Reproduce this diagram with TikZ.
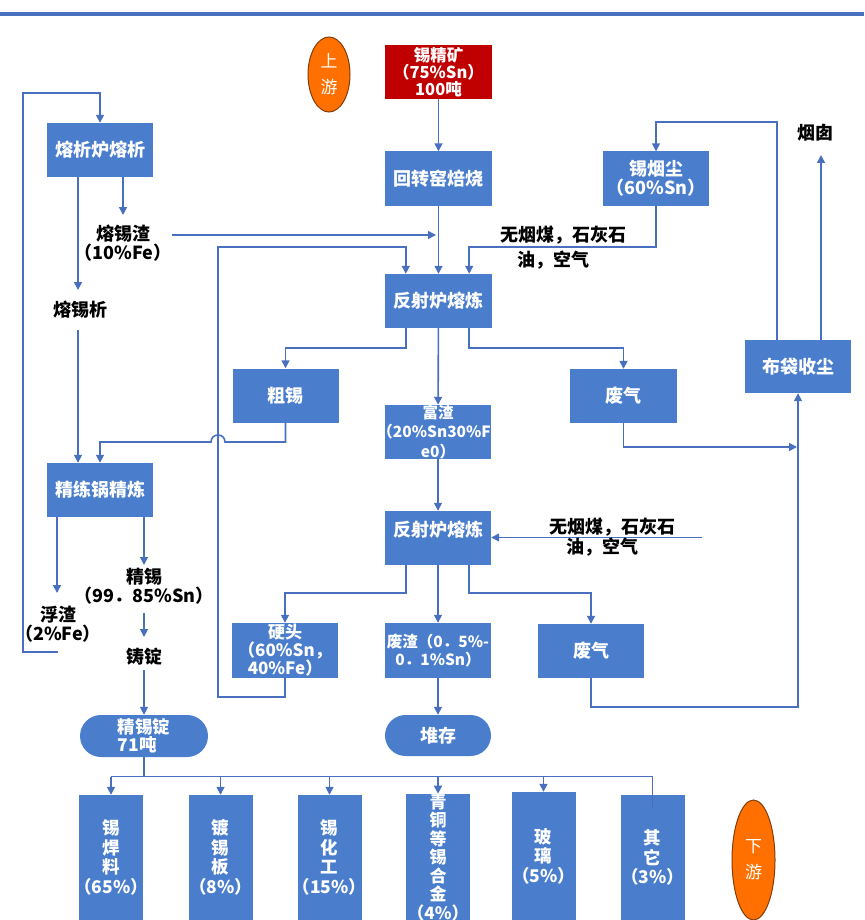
\documentclass[tikz,border=0pt]{standalone}
\usepackage{fontspec}
\newfontfamily\cjk{Noto Sans CJK SC}
\usetikzlibrary{arrows.meta,shapes.geometric}
\definecolor{boxblue}{RGB}{74,126,205}
\definecolor{lineblue}{RGB}{72,112,190}
\definecolor{orebox}{RGB}{192,0,0}
\definecolor{orangeov}{RGB}{255,112,0}
\definecolor{orangebd}{RGB}{130,60,10}
\newcommand{\zw}[1]{\makebox[0pt]{#1}}
\begin{document}
\begin{tikzpicture}[x=1pt,y=-1pt,
  pbox/.style={fill=boxblue, text=white, inner sep=0pt, align=center,
    minimum width=106pt, minimum height=54pt,
    font=\cjk\bfseries\fontsize{18}{19}\selectfont},
  vbox/.style={pbox, minimum width=64pt, minimum height=125pt,
    font=\cjk\bfseries\fontsize{17.5}{19.5}\selectfont},
  stad/.style={pbox, minimum height=42pt, rounded corners=21pt},
  lbl/.style={text=black, inner sep=0pt, align=center,
    font=\cjk\bfseries\fontsize{18}{19}\selectfont},
  oval/.style={ellipse, fill=orangeov, draw=orangebd, line width=1pt, text=white,
    inner sep=0pt, align=center, font=\cjk\fontsize{17}{26}\selectfont},
  arr/.style={draw=lineblue, line width=1.6pt, -{Triangle[length=8pt,width=8pt]}},
  ln/.style={draw=lineblue, line width=1.6pt},
]
\useasboundingbox (0,0) rectangle (864,920);
\draw[draw=lineblue, line width=3.5pt] (0,14) -- (864,14);

% ---- nodes ----
\node[oval, minimum width=42pt, minimum height=75pt] (up) at (329,74.5) {上\\游};
\node[pbox, fill=orebox, minimum width=107pt, font=\cjk\bfseries\fontsize{16.5}{17}\selectfont] (ore) at (438.5,72) {锡精矿\\（75\%Sn）\\100吨};
\node[pbox, minimum width=107pt] (rk) at (438.5,178.5) {回转窑焙烧};
\node[pbox] (dust) at (656,178.5) {锡烟尘\\（60\%Sn）};
\node[pbox, minimum width=107pt] (fs1) at (438.5,301) {反射炉熔炼};
\node[pbox, minimum height=53pt] (bag) at (798,366.5) {布袋收尘};
\node[pbox] (cs) at (285.5,395.5) {粗锡};
\node[pbox, font=\cjk\bfseries\fontsize{15.5}{19.5}\selectfont] (fz) at (438,432) {富渣\\\zw{\kern-0.5em（20\%Sn30\%F}\\e0）};
\node[pbox, minimum width=107pt] (wg1) at (623.5,396) {废气};
\node[pbox] (fs2) at (438,538) {反射炉熔炼\\\mbox{}};
\node[pbox, minimum height=55pt, font=\cjk\bfseries\fontsize{17}{18}\selectfont] (ht) at (285,650.5) {硬头\\（60\%Sn，\\40\%Fe）};
\node[pbox, minimum height=55pt, font=\cjk\bfseries\fontsize{15.5}{17.5}\selectfont] (wz) at (438,650.5) {\zw{废渣（0．5\%-}\\0．1\%Sn）};
\node[pbox] (wg2) at (591,651) {废气};
\node[stad, minimum width=106pt, minimum height=41pt, rounded corners=20.5pt] (dc) at (438,735.5) {堆存};
\node[pbox] (ms) at (100,150) {熔析炉熔析};
\node[pbox] (jl) at (100,490) {精练锅精炼};
\node[stad, minimum width=128pt, align=left, font=\cjk\bfseries\fontsize{17.5}{18}\selectfont] (jxd) at (144,736) {精锡锭\\71吨};

\node[vbox] (b1) at (111,857.5) {锡\\焊\\料\\\zw{（65\%）}};
\node[vbox] (b2) at (220.5,857.5) {镀\\锡\\板\\\zw{（8\%）}};
\node[vbox] (b3) at (329.5,857.5) {锡\\化\\工\\\zw{（15\%）}};
\node[vbox, font=\cjk\bfseries\fontsize{17}{18.5}\selectfont] (b4) at (438,857.5) {青\\铜\\等\\锡\\合\\金\\\zw{（4\%）}};
\node[vbox, minimum height=128pt] (b5) at (543.5,856) {玻\\璃\\\zw{（5\%）}};
\node[vbox] (b6) at (652.5,857.5) {其\\它\\\zw{（3\%）}};
\node[oval, minimum width=43pt, minimum height=120pt] (down) at (753.5,860) {下\\游};

% ---- labels ----
\node[lbl] (slag) at (123,243) {熔锡渣\\（10\%Fe）};
\node[lbl] (mx) at (80,310) {熔锡析};
\node[lbl] (float) at (58,624) {浮渣\\（2\%Fe）};
\node[lbl] (jx) at (144,586) {精锡\\（99．85\%Sn）};
\node[lbl] (zd) at (144,657) {铸锭};
\node[lbl] (chim) at (815,133) {烟囱};
\node[lbl] (in1a) at (563,235) {无烟煤，石灰石};
\node[lbl] (in1b) at (553,260) {油，空气};

% ---- connectors ----
\draw[arr] (ore) -- (rk);
\draw[arr] (rk) -- (fs1);
\coordinate (j1) at (436,235);
\draw[arr] (slag.east |- j1) -- (j1);
\coordinate (f1TL) at ([xshift=21pt]fs1.north west);
\draw[arr] (ht.south) -- (ht.south |- 0,697) -- (218,697) -- (218,247) -| (f1TL);
\coordinate (f1TR) at ([xshift=-23pt]fs1.north east);
\draw[arr] (dust.south) -- (dust.south |- 0,247) -| (f1TR);
\coordinate (bagL) at ([xshift=-21pt]bag.north);
\coordinate (bagR) at ([xshift=23pt]bag.north);
\draw[arr] (bagL) -- (bagL |- 0,122) -| (dust.north);
\draw[arr] (bagR) -- (bagR |- 0,155);

\coordinate (f1L) at ([xshift=21pt]fs1.south west);
\coordinate (f1R) at ([xshift=-23pt]fs1.south east);
\draw[arr] (f1L) -- (f1L |- 0,348) -| (cs.north);
\draw[arr] (fs1) -- (fz);
\draw[arr] (f1R) -- (f1R |- 0,348) -| (wg1.north);
\coordinate (j2) at (797,447);
\draw[arr] (wg1.south) -- (wg1.south |- j2) -- (j2);
\draw[arr] (wg2.south) -- (wg2.south |- 0,707) -| (bag.south);

\draw[arr] (fz) -- (fs2);
\coordinate (in2) at (702,537.5);
\draw[arr] (in2) -- (fs2.east |- in2);
\coordinate (f2L) at ([xshift=21pt]fs2.south west);
\coordinate (f2R) at ([xshift=-22pt]fs2.south east);
\draw[arr] (f2L) -- (f2L |- 0,593) -| (ht.north);
\draw[arr] (fs2) -- (wz);
\draw[arr] (f2R) -- (f2R |- 0,593) -| (wg2.north);
\draw[arr] (wz) -- (dc);

% left column
\draw[arr] (float.south |- 0,652) -- (23,652) -- (23,93) -| (ms.north);
\coordinate (msL) at ([xshift=-22pt]ms.south);
\coordinate (msR) at ([xshift=23pt]ms.south);
\draw[arr] (msL) -- (msL |- 0,290);
\draw[arr] (msR) -- (msR |- 0,215);
\coordinate (jlL) at ([xshift=-22pt]jl.north);
\draw[arr] (jlL |- 0,330) -- (jlL);
\draw[arr] (cs.south) -- (cs.south |- 0,442) -- (225,442)
  .. controls (225,432.7) and (211,432.7) .. (211,442) -| (jl.north);
\coordinate (jlBL) at ([xshift=-43pt]jl.south);
\coordinate (jlBR) at ([xshift=44pt]jl.south);
\draw[arr] (jlBL) -- (jlBL |- 0,593);
\draw[arr] (jlBR) -- (jlBR |- 0,565);
\draw[arr] (jx.south |- 0,613) -- (zd.north |- 0,637);
\draw[arr] (zd.south |- 0,670) -- (jxd.north);
\draw[ln] (jxd.south) -- (jxd.south |- 0,776.5);
\draw[ln] (b1.north |- 0,776.5) -- (b6.north |- 0,776.5);
\foreach \b in {b1,b2,b3,b4,b5} {\draw[arr] (\b.north |- 0,776.5) -- (\b.north);}
\draw[ln] (b6.north |- 0,776.5) -- ([yshift=-13pt]b6.north);

\node[lbl] (in2a) at (612,527) {无烟煤，石灰石};
\node[lbl] (in2b) at (602,547) {油，空气};
\end{tikzpicture}
\end{document}
